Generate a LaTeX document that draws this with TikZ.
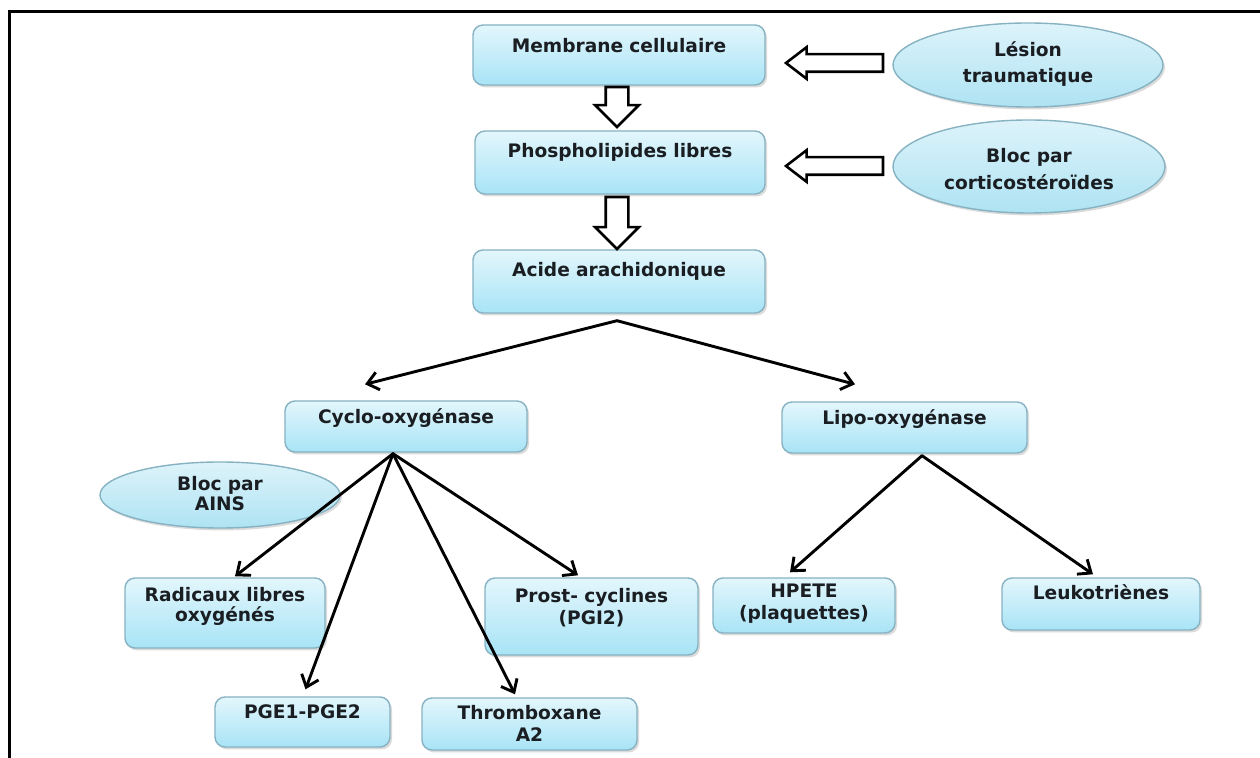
\documentclass[tikz,border=0pt]{standalone}
\usepackage{fontspec}
\setmainfont{DejaVu Sans}
\usetikzlibrary{arrows.meta,shapes.geometric,shapes.arrows,shadows,calc}
\definecolor{boxtop}{HTML}{E3F6FC}
\definecolor{boxbot}{HTML}{A8E4F6}
\definecolor{ovaltop}{HTML}{DDF3FA}
\definecolor{ovalbot}{HTML}{AEE3F3}
\definecolor{boxline}{HTML}{86B2C2}
\definecolor{ink}{HTML}{1A1E22}
\newcommand\lbl{\bfseries\fontsize{9.3}{11}\selectfont}
\tikzset{
  cardshadow/.style={drop shadow={shadow xshift=1pt, shadow yshift=-1.2pt, opacity=0.28}},
  card/.style 2 args={rectangle, rounded corners=5pt, draw=boxline, line width=0.7pt,
    top color=boxtop, bottom color=boxbot,
    minimum width=#1*0.5pt, minimum height=#2*0.5pt, text width=#1*0.5pt-8pt,
    inner sep=0pt, align=center, text=ink, font=\lbl, text height=7pt, cardshadow},
  oval/.style 2 args={ellipse, draw=boxline, line width=0.7pt,
    top color=ovaltop, bottom color=ovalbot,
    minimum width=#1*0.5pt, minimum height=#2*0.5pt, text width=#1*0.35pt,
    inner sep=0pt, align=center, text=ink, font=\lbl, text height=7pt, cardshadow},
  dep/.style={text depth=#1pt},
  flow/.style={-{Straight Barb[length=5.5pt,width=9pt]}, line width=1.45pt, line cap=round},
  hollowdown/.style={single arrow, draw=black, fill=white, line width=1.3pt,
    inner xsep=0pt, inner ysep=5pt, single arrow head extend=5.25pt,
    minimum height=#1*0.5pt, rotate=-90, anchor=tail},
  hollowleft/.style={single arrow, draw=black, fill=white, line width=1.3pt,
    inner xsep=0pt, inner ysep=3.75pt, single arrow head extend=3.5pt,
    single arrow tip angle=75, minimum height=#1*0.5pt, rotate=180, anchor=tail}
}
\begin{document}
\begin{tikzpicture}[x=0.5pt,y=-0.5pt]
\useasboundingbox (0,0) rectangle (1260,758);
\fill[white] (0,0) rectangle (1260,758);

% frame
\draw[line width=1.5pt] (1260,12) -- (9,12) -- (9,758);

% main chain
\node[card={292}{60}, dep=9] (mem) at (619,55) {Membrane cellulaire};
\node[card={290}{63}, dep=12] (phos) at (620,162.5) {Phospholipides libres};
\node[card={292}{63}, dep=11.5] (acide) at (619,281.5) {Acide arachidonique};

% external causes
\node[oval={270}{84}, dep=15] (lesion) at (1028,65) {Lésion\\[2pt]traumatique};
\node[oval={272}{93}, dep=11] (cortico) at (1029,166.5) {Bloc par\\[2.5pt]corticostéroïdes};

% enzymes
\node[card={242}{51}, dep=9.5] (cyclo) at (406,426.5) {Cyclo-oxygénase};
\node[card={245}{51}, dep=9.5] (lipo) at (904.5,427.5) {Lipo-oxygénase};
\node[oval={240}{66}, dep=11] (ains) at (220,495) {Bloc par\\[-1pt]AINS};

% products
\node[card={200}{70}, dep=18] (rad) at (225,613) {Radicaux libres\\[-1pt]oxygénés};
\node[card={175}{50}, dep=10] (pge) at (302.5,722) {PGE1-PGE2};
\node[card={215}{52}, dep=11] (thromb) at (529.5,724) {Thromboxane\\A2};
\node[card={213}{77}, dep=20.5] (prost) at (591.5,616.5) {Prost- cyclines\\(PGI2)};
\node[card={182}{55}, dep=14.5] (hpete) at (804,605.5) {HPETE\\(plaquettes)};
\node[card={198}{52}, dep=11] (leuk) at (1101,604) {Leukotriènes};

% hollow arrows
\node[hollowdown=40] (d1) at ($(mem.south)+(-2,0)$) {};
\node[hollowdown=52] (d2) at ($(phos.south)+(-3,1)$) {};
\node[hollowleft=97] (l1) at ($(lesion.west)+(-8,-2)$) {};
\node[hollowleft=97] (l2) at ($(cortico.west)+(-8,-0.5)$) {};

% branching arrows
\draw[flow] ($(acide.south)+(-2,7)$) -- ($(cyclo.north)+(-41,-16)$);
\draw[flow] ($(acide.south)+(-2,7)$) -- ($(lipo.north)+(-49.5,-17)$);

\draw[flow] ($(cyclo.south)+(-13,1)$) -- ($(rad.north)+(10,-1)$);
\draw[flow] ($(cyclo.south)+(-13,1)$) -- ($(pge.north)+(3,-7)$);
\draw[flow] ($(cyclo.south)+(-13,1)$) -- ($(thromb.north)+(-14.5,-3)$);
\draw[flow] ($(cyclo.south)+(-13,1)$) -- ($(prost.north)+(-13.5,-2)$);

\draw[flow] ($(lipo.south)+(17.5,2)$) -- ($(hpete.north)+(-14,-5)$);
\draw[flow] ($(lipo.south)+(17.5,2)$) -- ($(leuk.north)+(-8,-3)$);
\end{tikzpicture}
\end{document}
